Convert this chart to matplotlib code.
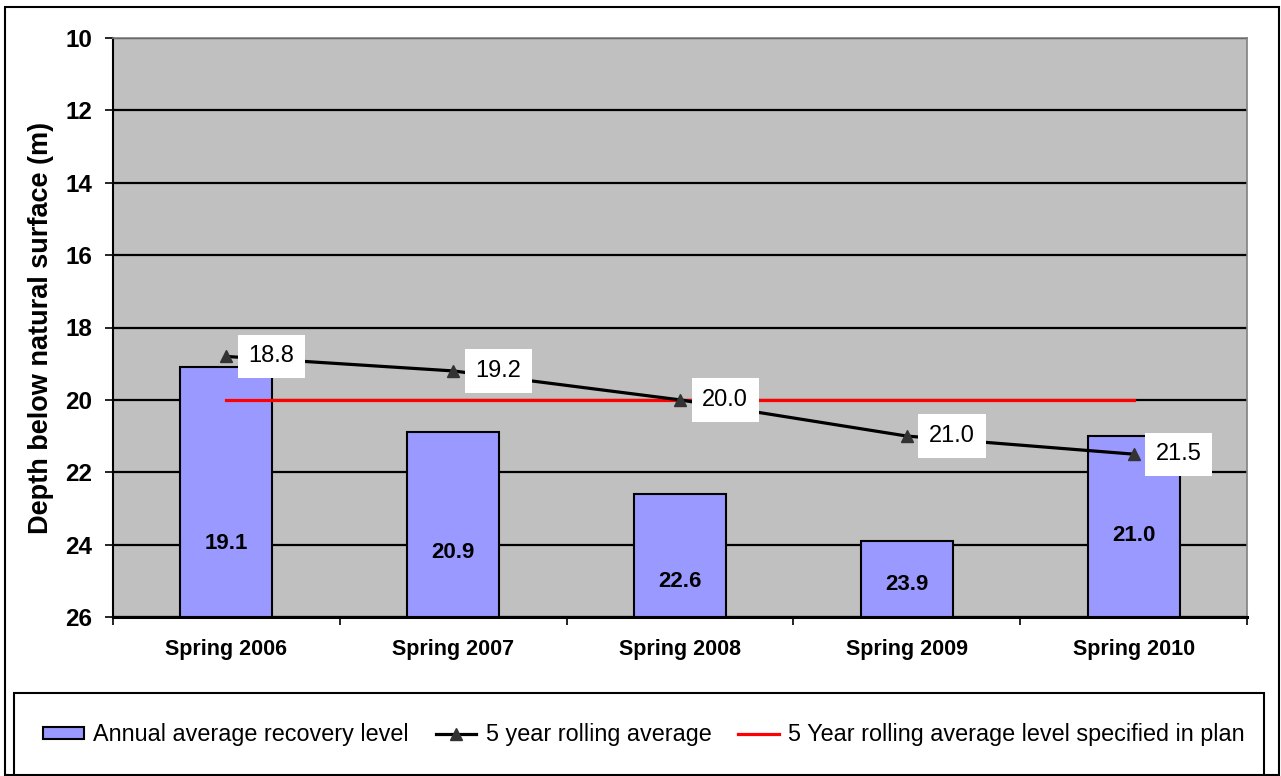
import matplotlib
matplotlib.use("Agg")
import matplotlib.pyplot as plt
from matplotlib.patches import Rectangle
import numpy as np

plt.rcParams['font.family'] = ['Liberation Sans', 'DejaVu Sans']

categories = ["Spring 2006", "Spring 2007", "Spring 2008", "Spring 2009", "Spring 2010"]
annual_level = [19.1, 20.9, 22.6, 23.9, 21.0]
rolling_avg = [18.8, 19.2, 20.0, 21.0, 21.5]
plan_level = [20.0, 20.0, 20.0, 20.0, 20.0]
bar_label_depth = [23.98, 24.23, 25.03, 25.11, 23.76]
y_ticks = [10, 12, 14, 16, 18, 20, 22, 24, 26]
axis_bottom = 26

fig = plt.figure(figsize=(12.81, 7.76), dpi=100)
ax = fig.add_axes([113/1281, 1-617/776, (1247-113)/1281, (617-38)/776])
ax.set_facecolor('#C0C0C0')

x = np.arange(len(categories))
heights = [v - axis_bottom for v in annual_level]
bars = ax.bar(x, heights, bottom=axis_bottom, width=0.405, color='#9999FF',
              edgecolor='black', linewidth=1.5, zorder=3)
for xi, v, ly in zip(x, annual_level, bar_label_depth):
    ax.text(xi, ly, f"{v:.1f}", ha='center', va='center', fontsize=16,
            fontweight='bold', zorder=6)

red_line, = ax.plot(x, plan_level, color='#FF0000', linewidth=2.3, zorder=4)
roll_line, = ax.plot(x, rolling_avg, color='black', linewidth=2.3, marker='^',
                     markersize=9, markerfacecolor='#333333', markeredgecolor='#333333',
                     zorder=5)
for xi, v in zip(x, rolling_avg):
    ax.annotate(f"{v:.1f}", (xi, v), xytext=(16, 0), textcoords='offset points',
                ha='left', va='center', fontsize=17, zorder=7,
                bbox=dict(boxstyle='square,pad=0.45', fc='white', ec='none'))

ax.set_ylim(26, 10)
ax.set_xlim(-0.5, len(categories) - 0.5)
ax.set_yticks(y_ticks)
ax.set_yticklabels([str(t) for t in y_ticks], fontsize=17.5, fontweight='bold')
ax.yaxis.grid(True, color='black', linewidth=1.6, zorder=1)
ax.set_axisbelow(True)
ax.tick_params(axis='y', direction='out', length=6, width=1.2, pad=9)

ax.set_xticks(np.arange(len(categories) + 1) - 0.5)
ax.set_xticklabels([])
ax.set_xticks(x, minor=True)
ax.set_xticklabels(categories, minor=True, fontsize=15.5, fontweight='bold')
ax.tick_params(axis='x', which='major', direction='out', length=6, width=1.2)
ax.tick_params(axis='x', which='minor', length=0, pad=16)

ax.set_ylabel("Depth below natural surface (m)", fontsize=19.5, fontweight='bold',
              labelpad=8)

for s in ['top', 'right']:
    ax.spines[s].set_color('#808080')
    ax.spines[s].set_linewidth(1.2)
ax.spines['left'].set_color('black')
ax.spines['left'].set_linewidth(1.5)
ax.spines['bottom'].set_color('black')
ax.spines['bottom'].set_linewidth(2.2)

# legend box and outer frame
fig.patches.append(Rectangle((5/1281, 1/776), 1274/1281, 768/776, transform=fig.transFigure,
                             fill=False, edgecolor='black', linewidth=1.5))
fig.patches.append(Rectangle((14/1281, 0/776), 1250/1281, 83/776, transform=fig.transFigure,
                             fill=False, edgecolor='black', linewidth=1.5))

leg = fig.legend([bars, roll_line, red_line],
                 ['Annual average recovery level', '5 year rolling average',
                  '5 Year rolling average level specified in plan'],
                 loc='center', bbox_to_anchor=(644/1281, 1-735/776), ncol=3,
                 frameon=False, fontsize=16.8, handlelength=1.75, handletextpad=0.4,
                 columnspacing=1.15, handleheight=0.45)

fig.savefig("out.png", dpi=100)
